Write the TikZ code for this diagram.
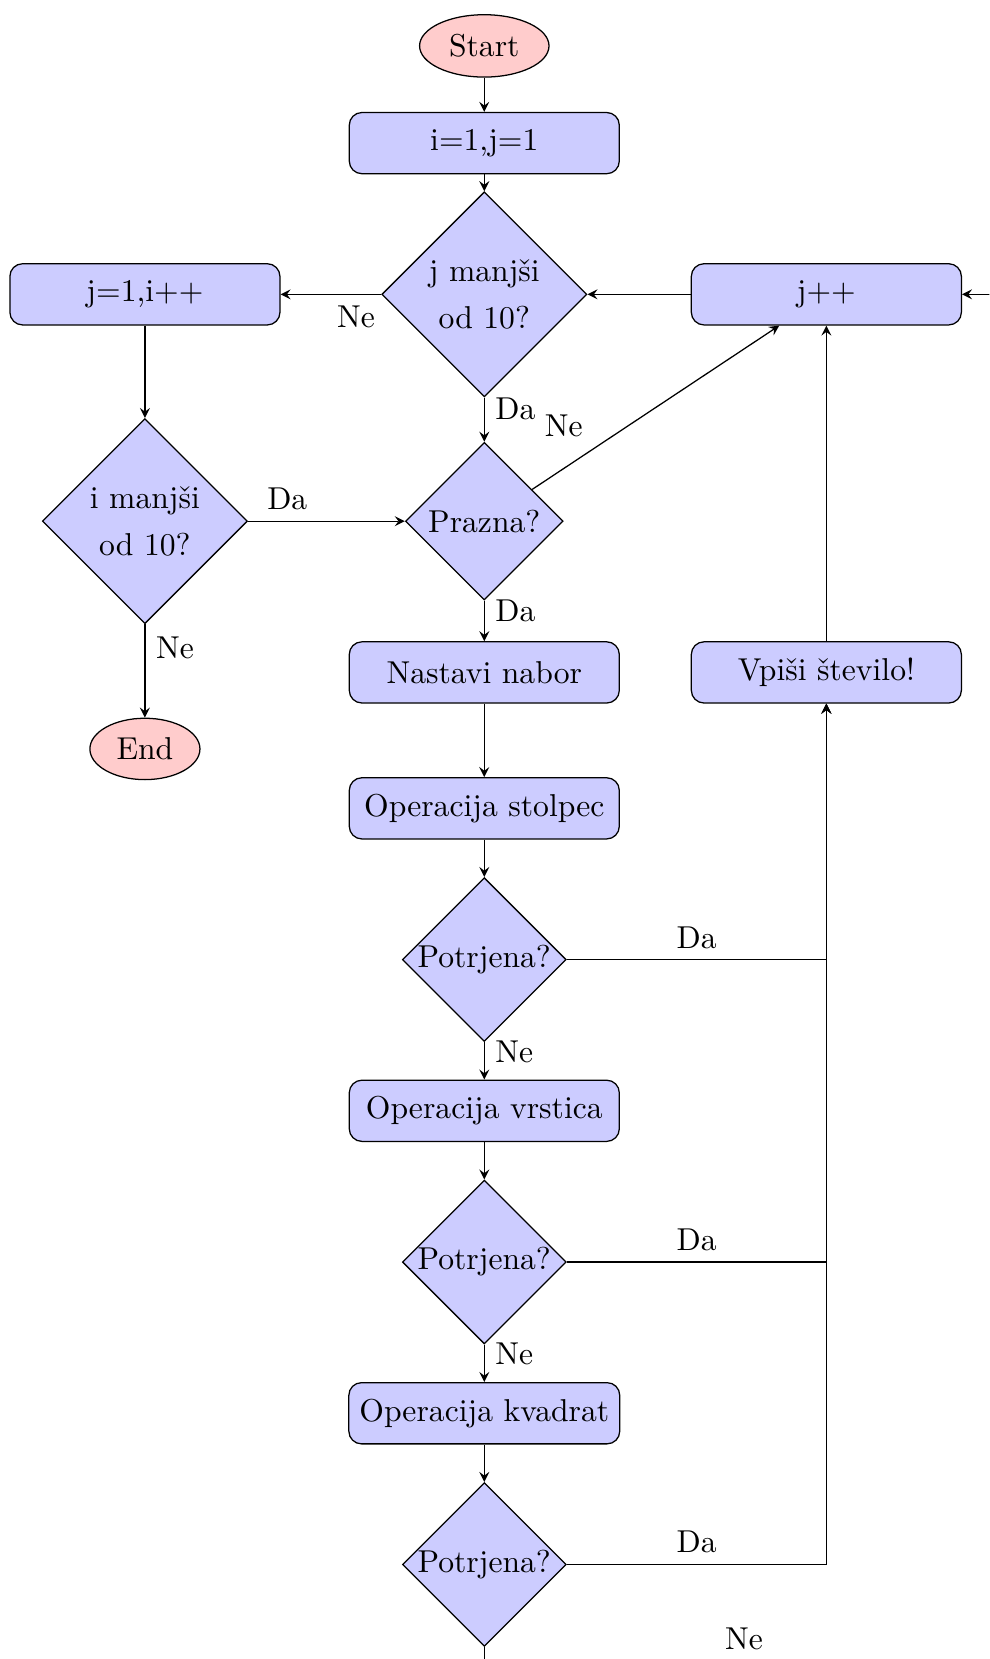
\documentclass[tikz,border=0pt]{standalone}
\usetikzlibrary{shapes.geometric, arrows}

\begin{document}
\begin{tikzpicture}[>=stealth,
    box/.style={rectangle, rounded corners, draw, fill=blue!20, minimum width=3cm, minimum height=0.68cm},
    decision/.style={diamond, draw, fill=blue!20, align=center, aspect=1, text width=1.5cm, inner sep=0pt},
    terminal/.style={ellipse, draw, fill=red!20}]
    \useasboundingbox (0,0) rectangle (10.99,-18.43);
    \clip (0,0) rectangle (10.99,-18.43);

    % zacetek in zanke
    \node[terminal] (start) at (5.38,-0.51) {Start};
    \node[box] (init) at (5.38,-1.59) {i=1,j=1};
    \node[decision] (jcheck) at (5.38,-3.27) {j manjši\\[3pt]od 10?};
    \node[box] (jreset) at (1.61,-3.27) {j=1,i++};
    \node[box] (jinc) at (9.18,-3.27) {j++};
    \node[decision] (icheck) at (1.61,-5.79) {i manjši\\[3pt]od 10?};
    \node[decision] (prazna) at (5.38,-5.79) {Prazna?};
    \node[terminal] (end) at (1.61,-8.32) {End};

    % operacije
    \node[box] (nastavi) at (5.38,-7.47) {Nastavi nabor};
    \node[box] (vpisi) at (9.18,-7.47) {Vpiši število!};
    \node[box] (stolpec) at (5.38,-8.98) {Operacija stolpec};
    \node[decision] (pot1) at (5.38,-10.66) {Potrjena?};
    \node[box] (vrstica) at (5.38,-12.34) {Operacija vrstica};
    \node[decision] (pot2) at (5.38,-14.02) {Potrjena?};
    \node[box] (kvadrat) at (5.38,-15.70) {Operacija kvadrat};
    \node[decision] (pot3) at (5.38,-17.38) {Potrjena?};
    \coordinate (ret) at (11.15,-18.45);

    \draw[->] (start) -- (init);
    \draw[->] (init) -- (jcheck);
    \draw[->] (jcheck) -- node[near start, below] {Ne} (jreset);
    \draw[->] (jcheck) -- node[near start, right] {Da} (prazna);
    \draw[->] (jinc) -- (jcheck);
    \draw[->] (jreset) -- (icheck);
    \draw[->] (icheck) -- node[near start, above] {Da} (prazna);
    \draw[->] (icheck) -- node[near start, right] {Ne} (end);
    \draw[->] (prazna) -- node[near start, above left] {Ne} (jinc);
    \draw[->] (prazna) -- node[near start, right] {Da} (nastavi);
    \draw[->] (vpisi) -- (jinc);

    \draw[->] (nastavi) -- (stolpec);
    \draw[->] (stolpec) -- (pot1);
    \draw[->] (pot1) -| node[near start, above] {Da} (vpisi);
    \draw[->] (pot1) -- node[near start, right] {Ne} (vrstica);
    \draw[->] (vrstica) -- (pot2);
    \draw[->] (pot2) -| node[near start, above] {Da} (vpisi);
    \draw[->] (pot2) -- node[near start, right] {Ne} (kvadrat);
    \draw[->] (kvadrat) -- (pot3);
    \draw[->] (pot3) -| node[near start, above] {Da} (vpisi);
    \draw[->] (pot3) |- node[near end, above] {Ne} (ret) |- (jinc);
\end{tikzpicture}
\end{document}
